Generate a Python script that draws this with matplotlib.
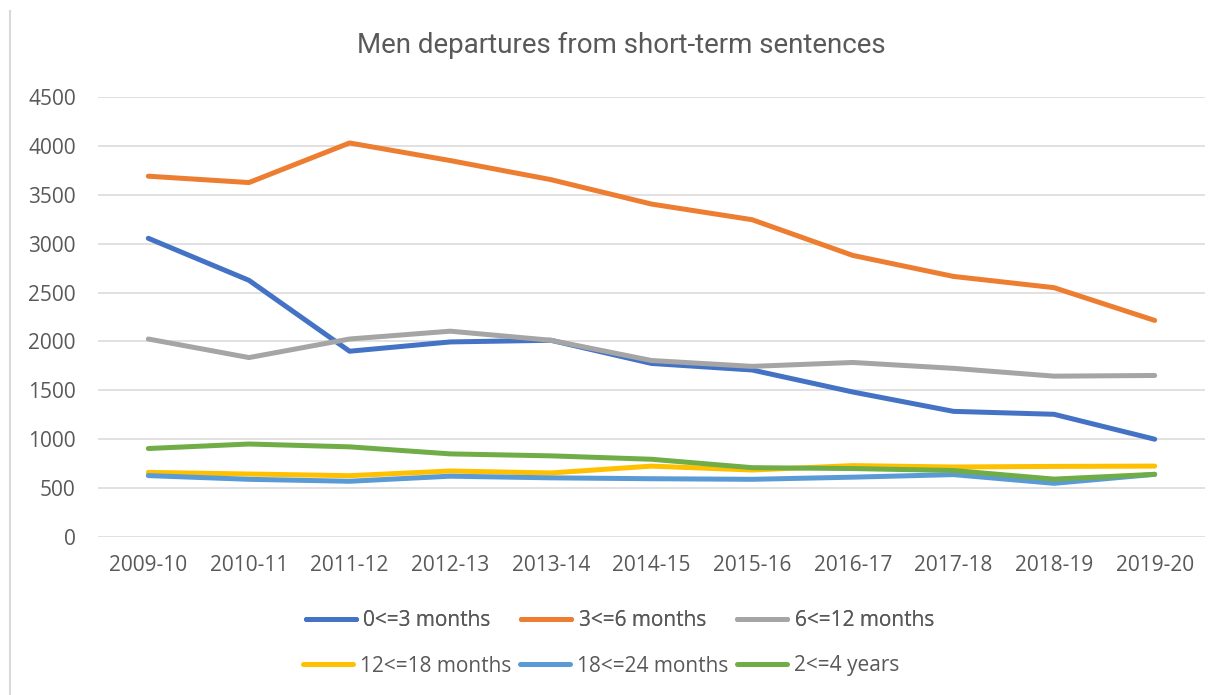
import matplotlib
matplotlib.use("Agg")
import matplotlib.pyplot as plt
from matplotlib.lines import Line2D

plt.rcParams['font.family'] = ['Open Sans', 'DejaVu Sans']

years = ["2009-10", "2010-11", "2011-12", "2012-13", "2013-14", "2014-15",
         "2015-16", "2016-17", "2017-18", "2018-19", "2019-20"]

m0_3 = [3055, 2625, 1900, 1995, 2012, 1775, 1708, 1483, 1285, 1255, 1000]
m3_6 = [3690, 3625, 4030, 3850, 3655, 3405, 3245, 2880, 2665, 2550, 2215]
m6_12 = [2025, 1835, 2025, 2105, 2012, 1805, 1745, 1785, 1725, 1645, 1652]
m12_18 = [661, 644, 627, 675, 655, 725, 685, 730, 716, 722, 725]
m18_24 = [628, 590, 570, 622, 605, 596, 590, 612, 638, 549, 641]
y2_4 = [905, 951, 922, 850, 830, 795, 709, 700, 680, 592, 641]

series = [
    ("0<=3 months", m0_3, "#4472C4"),
    ("3<=6 months", m3_6, "#ED7D31"),
    ("6<=12 months", m6_12, "#A5A5A5"),
    ("12<=18 months", m12_18, "#FFC000"),
    ("18<=24 months", m18_24, "#5B9BD5"),
    ("2<=4 years", y2_4, "#70AD47"),
]

W, H = 1222, 695
FS = 15
fig = plt.figure(figsize=(W / 100, H / 100), dpi=100)
ax = fig.add_axes([98 / W, 1 - 537 / H, (1205 - 98) / W, (537 - 97) / H])

x = list(range(len(years)))
for name, vals, col in series:
    ax.plot(x, vals, color=col, lw=3.6, solid_capstyle='round',
            solid_joinstyle='round', label=name)

ax.set_xlim(-0.5, len(years) - 0.5)
ax.set_ylim(0, 4500)
ax.set_yticks(range(0, 4501, 500))
ax.set_xticks(x)
ax.set_xticklabels(years)
ax.grid(axis='y', color='#D9D9D9', lw=1.1)
ax.set_axisbelow(True)
for s in ax.spines.values():
    s.set_visible(False)
ax.tick_params(length=0, labelsize=FS, labelcolor='#595959')
ax.tick_params(axis='y', pad=16)
ax.tick_params(axis='x', pad=13)

fig.text(621 / W, 1 - 45 / H, "Men departures from short-term sentences",
         ha='center', va='center', fontsize=20, color='#595959',
         family=['Roboto', 'DejaVu Sans'])

handles = [Line2D([0], [0], color=c, lw=3.6, solid_capstyle='round') for _, _, c in series]
labels = [n for n, _, _ in series]
common = dict(ncol=3, loc='center left', frameon=False, fontsize=FS,
              handlelength=2.4, handletextpad=0.35, borderpad=0,
              borderaxespad=0, labelcolor='#595959')
leg1 = fig.legend(handles[:3], labels[:3], bbox_to_anchor=(305.5 / W, 1 - 621 / H),
                  columnspacing=1.5, **common)
leg2 = fig.legend(handles[3:], labels[3:], bbox_to_anchor=(302.5 / W, 1 - 666 / H),
                  columnspacing=0.4, **common)
fig.add_artist(leg1)

fig.add_artist(Line2D([9.5 / W, 9.5 / W], [0, 1 - 11 / H], color='#D9D9D9', lw=1.5))

fig.savefig("out.png", dpi=100)
